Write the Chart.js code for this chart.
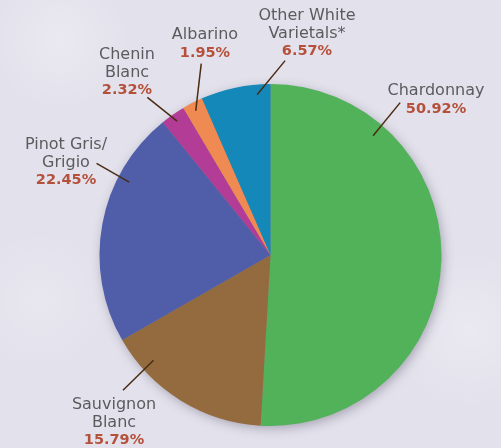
<!DOCTYPE html>
<html>
<head>
<meta charset="utf-8">
<script src="https://cdn.jsdelivr.net/npm/chart.js@4.4.1/dist/chart.umd.min.js"></script>
<style>
  html, body { margin: 0; padding: 0; }
  body {
    width: 501px; height: 448px; overflow: hidden;
    background:
      radial-gradient(circle at 60px 40px, rgba(255,255,255,0.25) 0, rgba(255,255,255,0) 70px),
      radial-gradient(circle at 470px 330px, rgba(255,255,255,0.25) 0, rgba(255,255,255,0) 80px),
      radial-gradient(circle at 40px 300px, rgba(255,255,255,0.18) 0, rgba(255,255,255,0) 70px),
      #e3e2ec;
  }
  #wrap { position: relative; width: 501px; height: 448px; }
</style>
</head>
<body>
<div id="wrap"><canvas id="pie"></canvas></div>
<script>
// ----- 데이터 -----
const categories = ['Chardonnay', 'Sauvignon Blanc', 'Pinot Gris/Grigio', 'Chenin Blanc', 'Albarino', 'Other White Varietals*'];
const nameLines = [
  ['Chardonnay'],
  ['Sauvignon', 'Blanc'],
  ['Pinot Gris/', 'Grigio'],
  ['Chenin', 'Blanc'],
  ['Albarino'],
  ['Other White', 'Varietals*']
];
const shares = [50.92, 15.79, 22.45, 2.32, 1.95, 6.57];
const sliceColors = ['#52b25a', '#936b3e', '#505eaa', '#b23c96', '#ee8a52', '#1488b8'];

// 라벨 배치 (중심 기준 px 오프셋, 리더선은 각도/반지름 비율)
const labelLayout = [
  { dx: 165.5, dy: -164, from: [-49.3, 0.92], to: [-49.6, 1.17] },
  { dx: -156.5, dy: 150, from: [138.0, 0.92], to: [137.5, 1.17] },
  { dx: -204.5, dy: -110, from: [-152.7, 0.93], to: [-152.2, 1.15] },
  { dx: -143.5, dy: -200, from: [-124.9, 0.955], to: [-128.0, 1.17] },
  { dx: -65.5, dy: -220, from: [-117.4, 0.95], to: [-109.9, 1.19] },
  { dx: 36.5, dy: -239, from: [-94.8, 0.94], to: [-85.7, 1.14] }
];
const lineGap = 17.8;

const pieShadow = {
  id: 'pieShadow',
  beforeDatasetsDraw(chart){
    const arc = chart.getDatasetMeta(0).data[0];
    if (!arc) return;
    const ctx = chart.ctx;
    ctx.save();
    ctx.shadowColor = 'rgba(40,30,60,0.35)';
    ctx.shadowBlur = 12;
    ctx.shadowOffsetX = 2;
    ctx.shadowOffsetY = 3;
    ctx.fillStyle = '#888';
    ctx.beginPath();
    ctx.arc(arc.x, arc.y, arc.outerRadius - 1, 0, Math.PI * 2);
    ctx.fill();
    ctx.restore();
  }
};

const outLabels = {
  id: 'outLabels',
  afterDatasetsDraw(chart){
    const arc = chart.getDatasetMeta(0).data[0];
    if (!arc) return;
    const ctx = chart.ctx;
    const cx = arc.x, cy = arc.y, r = arc.outerRadius;
    const pt = ([deg, f]) => {
      const a = deg * Math.PI / 180;
      return [cx + Math.cos(a) * r * f, cy + Math.sin(a) * r * f];
    };
    ctx.save();
    labelLayout.forEach((L, i) => {
      // 리더선
      const [x1, y1] = pt(L.from);
      const [x2, y2] = pt(L.to);
      ctx.strokeStyle = '#4a2c14';
      ctx.lineWidth = 1.5;
      ctx.beginPath();
      ctx.moveTo(x1, y1);
      ctx.lineTo(x2, y2);
      ctx.stroke();

      // 텍스트
      ctx.textAlign = 'center';
      ctx.textBaseline = 'middle';
      const x = cx + L.dx;
      let y = cy + L.dy;
      ctx.font = '16px "DejaVu Sans", sans-serif';
      ctx.fillStyle = '#5b5b5e';
      nameLines[i].forEach(t => { ctx.fillText(t, x, y); y += lineGap; });
      ctx.font = 'bold 14.5px "DejaVu Sans", sans-serif';
      ctx.fillStyle = '#b5503a';
      ctx.fillText(shares[i].toFixed(2) + '%', x, y);
    });
    ctx.restore();
  }
};

new Chart(document.getElementById('pie'), {
  type: 'pie',
  data: {
    labels: categories,
    datasets: [{
      data: shares,
      backgroundColor: sliceColors,
      borderWidth: 0,
      hoverOffset: 0
    }]
  },
  options: {
    animation: false,
    responsive: true,
    maintainAspectRatio: false,
    layout: { padding: { top: 84, bottom: 22, left: 99.5, right: 59.5 } },
    plugins: {
      legend: { display: false },
      tooltip: { enabled: false }
    }
  },
  plugins: [pieShadow, outLabels]
});
</script>
</body>
</html>
